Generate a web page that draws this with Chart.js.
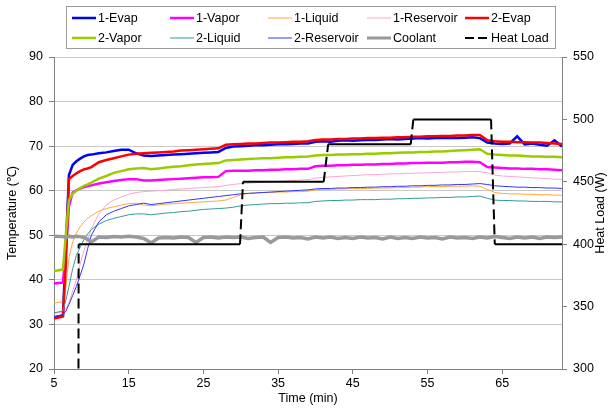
<!DOCTYPE html>
<html>
<head>
<meta charset="utf-8">
<script src="https://cdn.jsdelivr.net/npm/chart.js@4"></script>
<style>
  body { margin: 0; background: #fff; }
</style>
</head>
<body>
<canvas id="myChart" width="610" height="417"></canvas>
<script>
// time axis shared by all temperature series (min)
var timeMin = [5, 6.2, 6.6, 7, 7.5, 8, 8.5, 9, 9.5, 10,
  11, 12, 13, 14, 15, 16, 17, 18, 19, 20,
  21, 22, 23, 24, 25, 26, 27, 28, 29, 30,
  31, 32, 33, 34, 35, 36, 37, 38, 39, 40,
  41, 42, 43, 44, 45, 46, 47, 48, 49, 50,
  51, 52, 53, 54, 55, 56, 57, 58, 59, 60,
  61, 62, 63, 64, 65, 66, 67, 68, 69, 70,
  71, 72, 73];

var evap1 = [31.5, 32.0, 48.0, 63.5, 65.8, 66.6, 67.2, 67.7, 68.0, 68.1,
  68.4, 68.6, 68.9, 69.2, 69.2, 68.4, 67.9, 67.8, 67.9, 68.0,
  68.1, 68.2, 68.3, 68.4, 68.5, 68.6, 68.7, 69.6, 69.9, 70.0,
  70.1, 70.2, 70.2, 70.3, 70.4, 70.4, 70.5, 70.6, 70.6, 71.0,
  71.1, 71.0, 71.2, 71.3, 71.2, 71.3, 71.4, 71.4, 71.5, 71.6,
  71.5, 71.6, 71.7, 71.8, 71.7, 71.8, 71.8, 71.9, 71.8, 71.9,
  72.0, 71.8, 70.8, 70.6, 70.5, 70.6, 72.2, 70.4, 70.6, 70.3,
  70.1, 71.3, 69.9];
var vapor1 = [39.2, 39.4, 47.0, 56.5, 59.6, 60.1, 60.5, 60.8, 61.0, 61.2,
  61.6, 61.9, 62.2, 62.4, 62.6, 62.6, 62.3, 62.3, 62.4, 62.5,
  62.6, 62.7, 62.8, 62.9, 63.0, 63.0, 63.1, 64.4, 64.5, 64.5,
  64.5, 64.6, 64.6, 64.7, 64.7, 64.8, 64.8, 64.9, 64.9, 65.5,
  65.6, 65.6, 65.7, 65.7, 65.8, 65.8, 65.9, 65.9, 66.0, 66.0,
  66.1, 66.1, 66.2, 66.2, 66.3, 66.3, 66.3, 66.4, 66.4, 66.5,
  66.5, 66.4, 65.3, 65.2, 65.1, 65.0, 65.0, 64.9, 64.9, 64.8,
  64.8, 64.7, 64.6];
var liquid1 = [34.8, 35.1, 38.5, 45.0, 48.5, 50.5, 51.9, 53.0, 53.8, 54.4,
  55.4, 56.0, 56.4, 56.8, 57.1, 57.2, 56.8, 56.6, 56.8, 57.0,
  57.1, 57.2, 57.3, 57.4, 57.5, 57.6, 57.7, 57.9, 58.5, 59.1,
  59.4, 59.5, 59.6, 59.6, 59.7, 59.7, 59.8, 59.8, 59.9, 60.2,
  60.3, 60.3, 60.4, 60.4, 60.5, 60.5, 60.5, 60.6, 60.6, 60.6,
  60.7, 60.7, 60.8, 60.8, 60.9, 60.9, 60.9, 61.0, 61.0, 61.0,
  61.1, 61.0, 60.3, 59.6, 59.4, 59.3, 59.3, 59.2, 59.2, 59.1,
  59.1, 59.0, 59.0];
var reservoir1 = [32.5, 32.8, 33.5, 35.0, 37.5, 40.0, 43.5, 46.5, 49.0, 51.5,
  54.8, 56.8, 57.9, 58.6, 59.2, 59.6, 59.8, 59.9, 60.0, 60.1,
  60.3, 60.4, 60.5, 60.6, 60.7, 60.8, 60.9, 61.2, 61.4, 61.6,
  61.7, 61.8, 61.9, 62.0, 62.1, 62.2, 62.3, 62.4, 62.5, 62.8,
  63.0, 63.1, 63.2, 63.3, 63.4, 63.5, 63.6, 63.6, 63.7, 63.8,
  63.8, 63.9, 63.9, 64.0, 64.0, 64.1, 64.1, 64.2, 64.2, 64.3,
  64.3, 64.3, 64.0, 63.5, 63.3, 63.2, 63.1, 63.0, 62.9, 62.8,
  62.7, 62.6, 62.5];
var evap2 = [31.3, 31.8, 44.0, 62.6, 63.3, 63.9, 64.4, 64.8, 65.0, 65.3,
  66.4, 66.9, 67.3, 67.7, 68.1, 68.3, 68.4, 68.5, 68.6, 68.7,
  68.8, 69.0, 69.1, 69.2, 69.3, 69.4, 69.5, 70.3, 70.4, 70.5,
  70.6, 70.6, 70.7, 70.8, 70.8, 70.9, 71.0, 71.0, 71.1, 71.4,
  71.5, 71.5, 71.6, 71.6, 71.7, 71.7, 71.8, 71.8, 71.9, 71.9,
  72.0, 72.0, 72.1, 72.1, 72.2, 72.2, 72.3, 72.3, 72.4, 72.4,
  72.5, 72.5, 71.3, 71.1, 71.0, 71.0, 70.9, 70.9, 70.8, 70.8,
  70.7, 70.6, 70.5];
var vapor2 = [42.0, 42.3, 50.5, 57.9, 59.3, 60.0, 60.6, 61.1, 61.4, 61.8,
  62.7, 63.3, 64.0, 64.4, 64.8, 65.0, 65.1, 64.8, 65.0, 65.2,
  65.4, 65.5, 65.7, 65.9, 66.0, 66.1, 66.2, 66.8, 66.9, 67.0,
  67.1, 67.2, 67.3, 67.3, 67.4, 67.5, 67.5, 67.6, 67.7, 67.9,
  68.0, 68.0, 68.1, 68.1, 68.2, 68.2, 68.3, 68.3, 68.4, 68.4,
  68.5, 68.6, 68.6, 68.7, 68.7, 68.8, 68.8, 68.9, 69.0, 69.1,
  69.2, 69.3, 68.3, 68.1, 68.0, 67.9, 67.9, 67.8, 67.7, 67.7,
  67.6, 67.6, 67.5];
var liquid2 = [32.6, 33.0, 35.5, 38.5, 42.5, 45.5, 47.3, 49.0, 50.3, 51.3,
  52.5, 53.3, 53.8, 54.2, 54.6, 54.8, 54.8, 54.6, 54.8, 55.0,
  55.1, 55.3, 55.4, 55.6, 55.8, 55.9, 56.0, 56.1, 56.3, 56.6,
  56.8, 56.9, 57.0, 57.1, 57.1, 57.2, 57.2, 57.3, 57.3, 57.6,
  57.7, 57.8, 57.8, 57.9, 57.9, 58.0, 58.0, 58.0, 58.1, 58.1,
  58.2, 58.2, 58.3, 58.3, 58.4, 58.4, 58.5, 58.5, 58.6, 58.6,
  58.7, 58.8, 58.3, 57.9, 57.8, 57.8, 57.7, 57.7, 57.6, 57.6,
  57.6, 57.5, 57.5];
var reservoir2 = [31.8, 32.2, 33.0, 34.5, 36.5, 38.5, 41.0, 43.5, 47.0, 50.0,
  53.0, 54.6, 55.4, 56.0, 56.6, 56.9, 57.2, 56.9, 57.1, 57.3,
  57.5, 57.7, 57.9, 58.1, 58.3, 58.5, 58.7, 58.9, 59.1, 59.3,
  59.4, 59.5, 59.6, 59.7, 59.8, 59.9, 60.0, 60.1, 60.2, 60.4,
  60.5, 60.5, 60.6, 60.6, 60.7, 60.7, 60.8, 60.8, 60.9, 60.9,
  61.0, 61.0, 61.1, 61.1, 61.2, 61.2, 61.3, 61.3, 61.4, 61.4,
  61.5, 61.6, 61.4, 61.1, 61.0, 60.9, 60.8, 60.8, 60.7, 60.7,
  60.6, 60.6, 60.5];
var coolant = [49.8, 49.7, 49.5, 49.8, 49.6, 49.8, 49.7, 49.5, 49.1, 48.5,
  49.6, 49.5, 49.7, 49.6, 49.8, 49.6, 49.3, 48.3, 49.4, 49.5,
  49.4, 49.6, 49.5, 48.4, 49.5, 49.6, 49.4, 49.6, 49.5, 49.6,
  49.3, 49.5, 49.6, 48.4, 49.5, 49.6, 49.4, 49.5, 49.2, 49.6,
  49.4, 49.6, 49.3, 49.5, 49.3, 49.6, 49.4, 49.5, 49.2, 49.6,
  49.3, 49.5, 49.3, 49.6, 49.4, 49.5, 49.2, 49.6, 49.4, 49.5,
  49.3, 49.6, 49.4, 49.7, 49.5, 49.3, 49.6, 49.4, 49.6, 49.3,
  49.6, 49.5, 49.6];

// heat load steps (right axis)
var hlTime = [8.2, 8.3, 29.9, 30.3, 41.1, 41.7, 52.75, 53.1, 63.5, 64.0, 73];
var hlWatts = [0, 400, 400, 450, 450, 480, 480, 500, 500, 400, 400];

var xTicks = [5, 15, 25, 35, 45, 55, 65];
var tempTicks = [20, 30, 40, 50, 60, 70, 80, 90];
var heatTicks = [300, 350, 400, 450, 500, 550];

var seriesNames = ["1-Evap", "1-Vapor", "1-Liquid", "1-Reservoir", "2-Evap",
  "2-Vapor", "2-Liquid", "2-Reservoir", "Coolant"];
var seriesData = [evap1, vapor1, liquid1, reservoir1, evap2, vapor2, liquid2, reservoir2, coolant];
var seriesColors = ["#0000FF", "#FF00FF", "#FFA640", "#FFA3D1", "#FF0000",
  "#99CC00", "#339999", "#3333FF", "#999999"];
var seriesWidths = [2.5, 2.5, 1, 1, 2.5, 2.5, 1, 1, 3.5];

function toPoints(xs, ys) {
  var pts = [];
  for (var i = 0; i < xs.length; i++) pts.push({x: xs[i], y: ys[i]});
  return pts;
}

var datasets = [];
for (var i = 0; i < seriesNames.length; i++) {
  datasets.push({
    label: seriesNames[i],
    data: toPoints(timeMin, seriesData[i]),
    borderColor: seriesColors[i],
    backgroundColor: seriesColors[i],
    borderWidth: seriesWidths[i],
    pointRadius: 0,
    tension: 0,
    yAxisID: "y",
    order: 20 - i
  });
}
datasets.push({
  label: "Heat Load",
  data: toPoints(hlTime, hlWatts),
  borderColor: "#000000",
  backgroundColor: "#000000",
  borderWidth: 2,
  pointRadius: 0,
  tension: 0,
  yAxisID: "yHeat",
  order: 0,
  // excel style: only the jumps show the long dash
  segment: {
    borderDash: function(ctx) {
      return ctx.p0.parsed.y !== ctx.p1.parsed.y ? [10, 5] : undefined;
    }
  }
});

// legend in a grid box + right axis title reading upwards
var excelBits = {
  id: "excelBits",
  afterDraw: function(chart) {
    var c = chart.ctx;
    c.save();
    c.strokeStyle = "#9a9a9a";
    c.lineWidth = 1;
    c.strokeRect(66.5, 6.5, 489, 42);
    var cols = [72, 170, 268, 367, 465];
    var rows = [18, 38];
    c.font = "12.5px 'Liberation Sans', Arial, sans-serif";
    c.textBaseline = "middle";
    c.textAlign = "left";
    chart.data.datasets.forEach(function(ds, k) {
      var x = cols[k % 5], y = rows[Math.floor(k / 5)];
      c.beginPath();
      c.strokeStyle = ds.borderColor;
      c.lineWidth = Math.min(ds.borderWidth, 3);
      c.setLineDash(ds.label === "Heat Load" ? [9, 4] : []);
      c.moveTo(x, y);
      c.lineTo(x + 24, y);
      c.stroke();
      c.setLineDash([]);
      c.fillStyle = "#000";
      c.fillText(ds.label, x + 26, y + 1);
    });
    var area = chart.chartArea;
    c.translate(601, (area.top + area.bottom) / 2);
    c.rotate(-Math.PI / 2);
    c.textAlign = "center";
    c.fillText("Heat Load (W)", 0, 0);
    c.restore();
  }
};

Chart.defaults.font.family = "'Liberation Sans', Arial, sans-serif";
Chart.defaults.font.size = 12.5;
Chart.defaults.color = "#000";

new Chart("myChart", {
  type: "line",
  data: {datasets: datasets},
  plugins: [excelBits],
  options: {
    responsive: false,
    animation: false,
    devicePixelRatio: 1,
    layout: {padding: {top: 57, left: 0, right: 0, bottom: 0}},
    plugins: {legend: {display: false}, tooltip: {enabled: false}},
    scales: {
      x: {
        type: "linear",
        min: 5,
        max: 73,
        afterBuildTicks: function(s) { s.ticks = xTicks.map(function(v) { return {value: v}; }); },
        afterFit: function(s) { s.height = 48; },
        grid: {drawOnChartArea: false, tickLength: 5, color: "#808080"},
        border: {color: "#808080"},
        ticks: {padding: 2, maxRotation: 0},
        title: {display: true, text: "Time (min)", padding: {top: 1, bottom: 11}}
      },
      y: {
        position: "left",
        min: 20,
        max: 90,
        afterBuildTicks: function(s) { s.ticks = tempTicks.map(function(v) { return {value: v}; }); },
        afterFit: function(s) { s.width = 54; },
        grid: {color: "#C8C8C8", tickColor: "#808080", tickLength: 5},
        border: {color: "#808080"},
        ticks: {padding: 6},
        title: {display: true, text: "Temperature (℃)", padding: {top: 5, bottom: 0}}
      },
      yHeat: {
        position: "right",
        min: 300,
        max: 550,
        afterBuildTicks: function(s) { s.ticks = heatTicks.map(function(v) { return {value: v}; }); },
        afterFit: function(s) { s.width = 48; },
        grid: {drawOnChartArea: false, tickLength: 5, color: "#808080"},
        border: {color: "#808080"},
        ticks: {padding: 6}
      }
    }
  }
});
</script>
</body>
</html>
